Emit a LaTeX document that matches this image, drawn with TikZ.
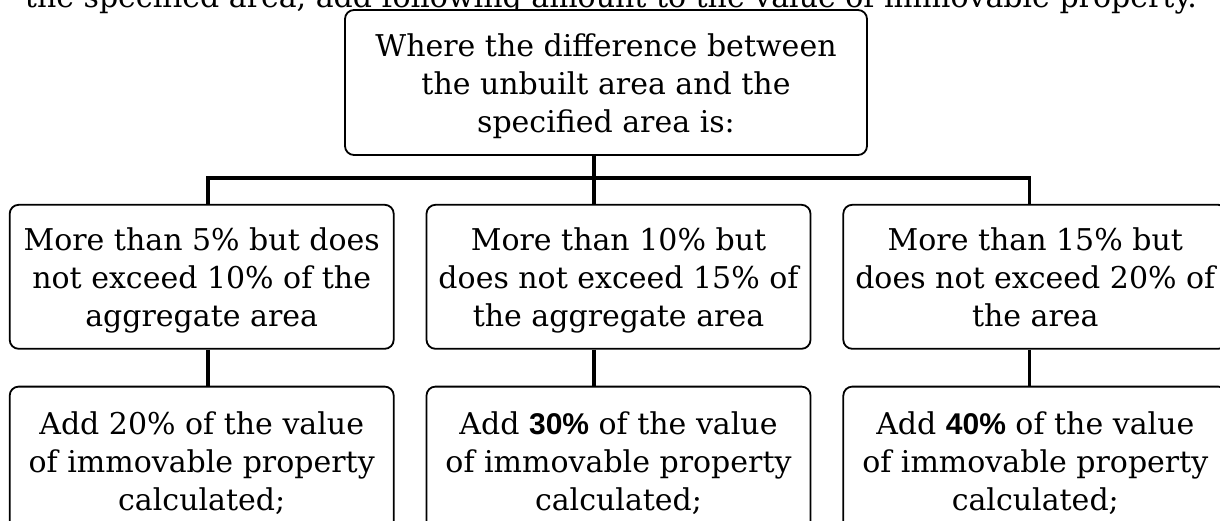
\documentclass[tikz,border=0pt]{standalone}
\usepackage{fontspec}
\setmainfont{DejaVu Serif}
\setsansfont{Liberation Sans}
\usepackage{tikz}
\usetikzlibrary{positioning, calc}
\newcommand{\lift}{\rule{0pt}{31pt}}

\begin{document}
\begin{tikzpicture}[x=1pt, y=-1pt,
        txt/.style={font=\fontsize{30}{38}\selectfont},
        box/.style={txt, draw, line width=1.8pt, rounded corners=9pt, fill=white, align=center,
                minimum width=384pt, minimum height=144pt, inner sep=0pt},
        link/.style={draw, line width=3.6pt}]
        \useasboundingbox (0,0) rectangle (1220,521);

        \node[txt, anchor=base, inner sep=0pt](line) at (611,8){the specified area, add following amount to the value of immovable property.};

        \node[box, minimum width=522pt, minimum height=145pt](top) at (606,82.5){\lift Where the difference between\\the unbuilt area and the\\specified area is:};
        \node[box](m2)[below = 48pt of top, xshift=12.5pt]{\lift More than 10\% but\\does not exceed 15\% of\\the aggregate area};
        \node[box](m1)[left = 31pt of m2]{\lift More than 5\% but does\\not exceed 10\% of the\\aggregate area};
        \node[box](m3)[right = 31pt of m2]{\lift More than 15\% but\\does not exceed 20\% of\\the area\vphantom{g}};

        \node[box](b1)[below = 36pt of m1]{\lift Add 20\% of the value\\of immovable property\\calculated;};
        \node[box](b2)[below = 36pt of m2]{\lift Add {\sffamily\bfseries 30\%} of the value\\of immovable property\\calculated;};
        \node[box](b3)[below = 36pt of m3]{\lift Add {\sffamily\bfseries 40\%} of the value\\of immovable property\\calculated;};

        \coordinate (j1) at ([xshift=6pt]m1.north);
        \coordinate (j2) at ([xshift=-24.5pt]m2.north);
        \coordinate (j3) at ([xshift=-6pt]m3.north);
        \coordinate (bus) at ($(top.south)!0.46!(m2.north)$);

        \path[link]
        (j2 |- top.south) -- (j2)
        (j1) -- (j1 |- bus) -- (j3 |- bus) -- (j3)
        (j1 |- m1.south) -- (j1 |- b1.north)
        (j2 |- m2.south) -- (j2 |- b2.north)
        (j3 |- m3.south) -- (j3 |- b3.north);
    \end{tikzpicture}
\end{document}
